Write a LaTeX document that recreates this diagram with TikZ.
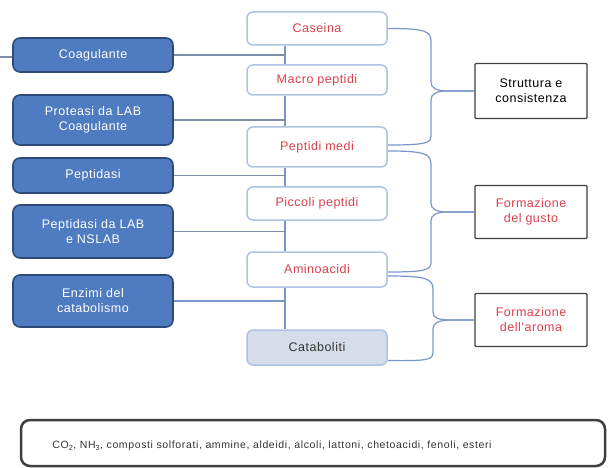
\documentclass[tikz,border=0pt]{standalone}
\usepackage{fontspec}
\setmainfont{Liberation Sans}[LetterSpace=4]
\newfontfamily\bottomfont{Liberation Sans}[LetterSpace=6]
\usetikzlibrary{calc}
\definecolor{lbfill}{HTML}{4F7BC1}
\definecolor{lbdraw}{HTML}{2D4A7A}
\definecolor{mbdraw}{HTML}{AFC2E0}
\definecolor{redtxt}{HTML}{D9404E}
\definecolor{catfill}{HTML}{D5DDEB}
\definecolor{conn}{HTML}{7896C8}
\definecolor{conng}{HTML}{7F8EA8}
\definecolor{rbdraw}{HTML}{3F3F3F}
\definecolor{cattxt}{HTML}{333333}
\begin{document}
\begin{tikzpicture}[x=1pt,y=-1pt,
 leftbox/.style={draw=lbdraw, fill=lbfill, line width=1.6pt, rounded corners=7pt, minimum width=160pt, text=white, font=\fontsize{12.5}{15}\selectfont, align=center, inner sep=0pt},
 midbox/.style={draw=mbdraw, fill=white, line width=1.5pt, rounded corners=6pt, minimum width=140pt, text=redtxt, font=\fontsize{12.5}{15}\selectfont, align=center, inner sep=0pt},
 rightbox/.style={draw=rbdraw, fill=white, line width=1.4pt, rounded corners=1pt, minimum width=112pt, align=center, font=\fontsize{12.5}{15}\selectfont, inner sep=0pt},
 link/.style={draw=conn, line width=1.2pt},
 glink/.style={draw=conng, line width=1.3pt}]
\useasboundingbox (0,0) rectangle (608,468);
\clip (0,0) rectangle (608,468);
% left boxes
\node[leftbox, minimum height=34pt] (coag) at (93,55) {Coagulante};
\node[leftbox, minimum height=50pt] (prot) at (93,120) {Proteasi da LAB\\Coagulante};
\node[leftbox, minimum height=35pt] (pept) at (93,175.5) {Peptidasi};
\node[leftbox, minimum height=53pt] (plab) at (93,231.5) {Peptidasi da LAB\\e NSLAB};
\node[leftbox, minimum height=52pt] (enz) at (93,301) {Enzimi del\\catabolismo};
% middle boxes
\node[midbox, minimum height=33pt] (caseina) at (317,28.5) {Caseina};
\node[midbox, minimum height=30pt] (macro) at (317,80) {Macro peptidi};
\node[midbox, minimum height=40pt] (pmedi) at (317,147) {Peptidi medi};
\node[midbox, minimum height=33pt] (piccoli) at (317,203.5) {Piccoli peptidi};
\node[midbox, minimum height=35pt] (amino) at (317,269.5) {Aminoacidi};
\node[midbox, minimum height=35pt, fill=catfill, text=cattxt] (catab) at (317,347.5) {Cataboliti};
% right boxes
\node[rightbox, minimum height=55pt] (strutt) at (531,91) {Struttura e\\consistenza};
\node[rightbox, minimum height=53pt, text=redtxt] (gusto) at (531,212) {Formazione\\del gusto};
\node[rightbox, minimum height=53pt, text=redtxt] (aroma) at (531,320) {Formazione\\dell'aroma};
% bottom box
\node[draw=rbdraw, line width=2.5pt, rounded corners=9pt, minimum width=584pt, minimum height=46pt] (bot) at (313,443) {};
\node[font=\bottomfont\fontsize{10.5}{12}\selectfont, text=cattxt, inner sep=0pt] (bottxt) at (272,446) {CO\textsubscript{2}, NH\textsubscript{3}, composti solforati, ammine, aldeidi, alcoli, lattoni, chetoacidi, fenoli, esteri};
% spine
\coordinate (sp) at (285,0);
\coordinate (stub) at (0,57);
\draw[link] (caseina.south -| sp) -- (macro.north -| sp);
\draw[link] (macro.south -| sp) -- (pmedi.north -| sp);
\draw[link] (pmedi.south -| sp) -- (piccoli.north -| sp);
\draw[link] (piccoli.south -| sp) -- (amino.north -| sp);
\draw[link] (amino.south -| sp) -- (catab.north -| sp);
% left connectors
\draw[glink] (stub) -- (stub -| coag.west);
\draw[glink] (coag.east) -- (coag.east -| sp);
\draw[glink] (prot.east) -- (prot.east -| sp);
\draw[glink] (pept.east) -- (pept.east -| sp);
\draw[glink] (plab.east) -- (plab.east -| sp);
\draw[link] (enz.east) -- (enz.east -| sp);
% braces
\draw[link] (caseina.east) .. controls (426,28.5) and (431,31) .. (431,42)
  -- (431,82) .. controls (431,88) and (436,91) .. (448,91) -- (strutt.west);
\draw[link] (strutt.west) -- (448,91) .. controls (436,91) and (431,94) .. (431,100)
  -- (431,136) .. controls (431,143) and (426,145) .. ([yshift=2pt]pmedi.east);
\draw[link] ([yshift=-4pt]pmedi.east) .. controls (426,151) and (431,154) .. (431,165)
  -- (431,203) .. controls (431,209) and (436,212) .. (448,212) -- (gusto.west);
\draw[link] (gusto.west) -- (448,212) .. controls (436,212) and (431,215) .. (431,221)
  -- (431,262) .. controls (431,270) and (426,272) .. ([yshift=-2.5pt]amino.east);
\draw[link] ([yshift=-6.5pt]amino.east) .. controls (428,276) and (433,279) .. (433,290)
  -- (433,312) .. controls (433,318) and (438,320) .. (452,320) -- (aroma.west);
\draw[link] (aroma.west) -- (452,320) .. controls (438,320) and (433,323) .. (433,330)
  -- (433,352) .. controls (433,360) and (428,361) .. ([yshift=-13pt]catab.east);
\end{tikzpicture}
\end{document}
